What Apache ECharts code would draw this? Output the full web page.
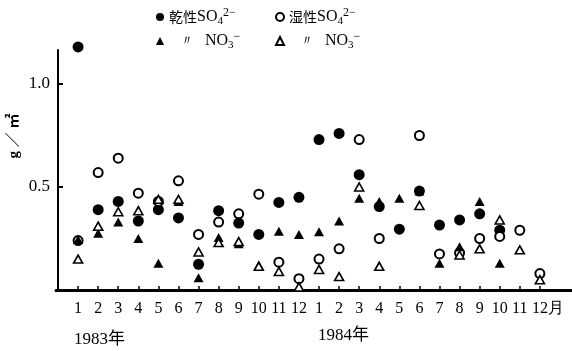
<!DOCTYPE html>
<html><head><meta charset="utf-8">
<script src="https://cdn.jsdelivr.net/npm/echarts@6/dist/echarts.min.js"></script>
<style>html,body{margin:0;padding:0;background:#fff}#c{width:572px;height:351px}</style>
</head><body><div id="c"></div>
<script>
const tickLabels = ['1','2','3','4','5','6','7','8','9','10','11','12','1','2','3','4','5','6','7','8','9','10','11','12月'];
const yearLabels = ['1983年', '1984年'];
const yTickValues = [0.5, 1.0];
const seriesNames = ['乾性SO4', '湿性SO4', '乾性NO3', '湿性NO3'];
// 1983.1 - 1984.12
const drySO4 = [1.18,0.39,0.43,0.335,0.39,0.35,0.125,0.385,0.325,0.27,0.425,0.45, 0.73,0.76,0.56,0.405,0.295,0.48,0.315,0.34,0.37,0.29,null,null];
const wetSO4 = [0.24,0.57,0.64,0.47,0.43,0.53,0.27,0.33,0.37,0.465,0.135,0.055, 0.15,0.20,0.73,0.25,null,0.75,0.175,0.18,0.25,0.26,0.29,0.08];
const dryNO3 = [0.245,0.275,0.33,0.25,0.13,0.43,0.06,0.255,0.225,0.12,0.285,0.27, 0.283,0.335,0.445,0.43,0.445,0.48,0.13,0.21,0.43,0.13,null,null];
const wetNO3 = [0.15,0.31,0.38,0.385,0.44,0.44,0.185,0.23,0.235,0.115,0.09,0.015, 0.10,0.065,0.50,0.115,null,0.41,null,0.17,0.20,0.34,0.195,0.05];

const toPts = arr => arr.map((v, i) => v == null ? null : [i + 1, v]).filter(p => p);
const monthPos = tickLabels.map((_, i) => i + 1);

const serif = 'Liberation Serif';
const cjk = 'Noto Sans CJK JP';
const richLegend = {
  c: {fontFamily: cjk, fontSize: 14, lineHeight: 20, color: '#000'},
  q: {fontFamily: serif, fontSize: 14, lineHeight: 20, color: '#000', width: 36, align: 'center'},
  t: {fontFamily: serif, fontSize: 16, lineHeight: 20, color: '#000'},
  sub: {fontFamily: serif, fontSize: 11, lineHeight: 9, verticalAlign: 'bottom', color: '#000'},
  sup: {fontFamily: serif, fontSize: 12, lineHeight: 10, verticalAlign: 'top', color: '#000'}
};
const legendFmt = name => {
  if (name === '乾性SO4') return '{c|乾性}{t|SO}{sub|4}{sup|2−}';
  if (name === '湿性SO4') return '{c|湿性}{t|SO}{sub|4}{sup|2−}';
  return '{q|〃}{t|NO}{sub|3}{sup|−}';
};
const legendBase = {
  orient: 'horizontal', itemWidth: 8, itemHeight: 8, itemGap: 0, padding: 0,
  selectedMode: false, formatter: legendFmt,
  textStyle: {rich: richLegend, fontFamily: serif, fontSize: 15, color: '#000'}
};

const chart = echarts.init(document.getElementById('c'));
chart.setOption({
  backgroundColor: '#fff',
  animation: false,
  grid: {left: 56, right: 0, top: 50, bottom: 61},
  legend: [
    Object.assign({}, legendBase, {data: [seriesNames[0]], left: 156, top: 7}),
    Object.assign({}, legendBase, {data: [seriesNames[1]], left: 275, top: 7}),
    Object.assign({}, legendBase, {data: [seriesNames[2]], left: 156, top: 31}),
    Object.assign({}, legendBase, {data: [seriesNames[3]], left: 275, top: 31})
  ],
  xAxis: {
    type: 'value', min: -0.1, max: 25.6,
    splitLine: {show: false},
    axisLine: {show: true, lineStyle: {color: '#000', width: 3}},
    axisTick: {show: true, inside: true, length: 4, customValues: monthPos, lineStyle: {color: '#000', width: 1.5}},
    axisLabel: {
      customValues: monthPos, margin: 11, color: '#000', fontFamily: serif, fontSize: 16,
      formatter: v => {
        const s = tickLabels[Math.round(v) - 1] || '';
        return s.indexOf('月') >= 0 ? '{last|' + s + '}' : s;
      },
      rich: {last: {fontFamily: serif, fontSize: 16, color: '#000', padding: [0, 0, 0, 16]}}
    }
  },
  yAxis: {
    type: 'value', min: 0, max: 1.165,
    splitLine: {show: false},
    axisLine: {show: true, lineStyle: {color: '#000', width: 2}},
    axisTick: {show: true, inside: true, length: 5, customValues: yTickValues, lineStyle: {color: '#000', width: 2}},
    axisLabel: {customValues: yTickValues, margin: 6, color: '#000', fontFamily: serif, fontSize: 17,
      formatter: v => v.toFixed(1)}
  },
  graphic: [
    {type: 'text', left: 74, top: 331, style: {text: yearLabels[0], font: '17px "Liberation Serif", "Noto Sans CJK JP"', fill: '#000'}},
    {type: 'text', left: 318, top: 327, style: {text: yearLabels[1], font: '17px "Liberation Serif", "Noto Sans CJK JP"', fill: '#000'}},
    {type: 'text', x: 14, y: 136, rotation: Math.PI / 2,
      style: {text: 'g ／ ㎡', font: 'bold 15px "Liberation Serif", "Noto Sans CJK JP"', fill: '#000', align: 'center', verticalAlign: 'middle'}}
  ],
  series: [
    {name: seriesNames[0], type: 'scatter', clip: false, symbol: 'circle', symbolSize: 11,
      itemStyle: {color: '#000', opacity: 1}, data: toPts(drySO4)},
    {name: seriesNames[1], type: 'scatter', clip: false, symbol: 'circle', symbolSize: 9,
      itemStyle: {color: '#fff', borderColor: '#000', borderWidth: 2, opacity: 1}, data: toPts(wetSO4)},
    {name: seriesNames[2], type: 'scatter', clip: false, symbol: 'triangle', symbolSize: [10, 9],
      itemStyle: {color: '#000', opacity: 1}, data: toPts(dryNO3)},
    {name: seriesNames[3], type: 'scatter', clip: false, symbol: 'triangle', symbolSize: [9, 8],
      itemStyle: {color: '#fff', borderColor: '#000', borderWidth: 1.6, opacity: 1}, data: toPts(wetNO3)}
  ]
});
</script></body></html>
